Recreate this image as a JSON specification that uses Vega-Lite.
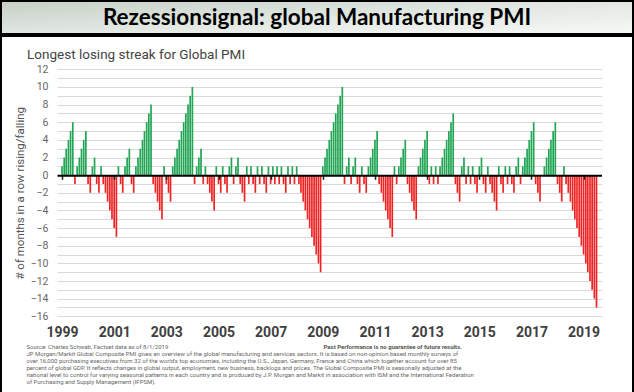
{
  "$schema": "https://vega.github.io/schema/vega-lite/v6.json",
  "padding": 0,
  "spacing": 0,
  "background": "white",
  "config": {
    "font": "Liberation Sans Narrow, Roboto, sans-serif",
    "view": {"stroke": "black", "strokeWidth": 2}
  },
  "datasets": {
    "pmi": [
      {"m":"1999-01","v":1},{"m":"1999-02","v":2},{"m":"1999-03","v":3},{"m":"1999-04","v":4},{"m":"1999-05","v":5},{"m":"1999-06","v":6},{"m":"1999-07","v":-1},{"m":"1999-08","v":1},{"m":"1999-09","v":2},{"m":"1999-10","v":3},{"m":"1999-11","v":4},{"m":"1999-12","v":5},
      {"m":"2000-01","v":-1},{"m":"2000-02","v":-2},{"m":"2000-03","v":1},{"m":"2000-04","v":2},{"m":"2000-05","v":-1},{"m":"2000-06","v":-2},{"m":"2000-07","v":1},{"m":"2000-08","v":-1},{"m":"2000-09","v":-2},{"m":"2000-10","v":-3},{"m":"2000-11","v":-4},{"m":"2000-12","v":-5},
      {"m":"2001-01","v":-6},{"m":"2001-02","v":-7},{"m":"2001-03","v":1},{"m":"2001-04","v":-1},{"m":"2001-05","v":-2},{"m":"2001-06","v":1},{"m":"2001-07","v":2},{"m":"2001-08","v":3},{"m":"2001-09","v":-1},{"m":"2001-10","v":-2},{"m":"2001-11","v":1},{"m":"2001-12","v":2},
      {"m":"2002-01","v":3},{"m":"2002-02","v":4},{"m":"2002-03","v":5},{"m":"2002-04","v":6},{"m":"2002-05","v":7},{"m":"2002-06","v":8},{"m":"2002-07","v":-1},{"m":"2002-08","v":-2},{"m":"2002-09","v":-3},{"m":"2002-10","v":-4},{"m":"2002-11","v":-5},{"m":"2002-12","v":1},
      {"m":"2003-01","v":-1},{"m":"2003-02","v":-2},{"m":"2003-03","v":-3},{"m":"2003-04","v":1},{"m":"2003-05","v":2},{"m":"2003-06","v":3},{"m":"2003-07","v":4},{"m":"2003-08","v":5},{"m":"2003-09","v":6},{"m":"2003-10","v":7},{"m":"2003-11","v":8},{"m":"2003-12","v":9},
      {"m":"2004-01","v":10},{"m":"2004-02","v":-1},{"m":"2004-03","v":1},{"m":"2004-04","v":2},{"m":"2004-05","v":3},{"m":"2004-06","v":-1},{"m":"2004-07","v":1},{"m":"2004-08","v":-1},{"m":"2004-09","v":-2},{"m":"2004-10","v":-3},{"m":"2004-11","v":-4},{"m":"2004-12","v":1},
      {"m":"2005-01","v":-1},{"m":"2005-02","v":-2},{"m":"2005-03","v":1},{"m":"2005-04","v":-1},{"m":"2005-05","v":-2},{"m":"2005-06","v":1},{"m":"2005-07","v":2},{"m":"2005-08","v":-1},{"m":"2005-09","v":1},{"m":"2005-10","v":2},{"m":"2005-11","v":-1},{"m":"2005-12","v":-2},
      {"m":"2006-01","v":-3},{"m":"2006-02","v":1},{"m":"2006-03","v":-1},{"m":"2006-04","v":1},{"m":"2006-05","v":-1},{"m":"2006-06","v":-2},{"m":"2006-07","v":1},{"m":"2006-08","v":-1},{"m":"2006-09","v":1},{"m":"2006-10","v":-1},{"m":"2006-11","v":-2},{"m":"2006-12","v":1},
      {"m":"2007-01","v":-1},{"m":"2007-02","v":1},{"m":"2007-03","v":-1},{"m":"2007-04","v":1},{"m":"2007-05","v":-1},{"m":"2007-06","v":1},{"m":"2007-07","v":-1},{"m":"2007-08","v":-2},{"m":"2007-09","v":1},{"m":"2007-10","v":-1},{"m":"2007-11","v":1},{"m":"2007-12","v":-1},
      {"m":"2008-01","v":1},{"m":"2008-02","v":-1},{"m":"2008-03","v":-2},{"m":"2008-04","v":-3},{"m":"2008-05","v":-4},{"m":"2008-06","v":-5},{"m":"2008-07","v":-6},{"m":"2008-08","v":-7},{"m":"2008-09","v":-8},{"m":"2008-10","v":-9},{"m":"2008-11","v":-10},{"m":"2008-12","v":-11},
      {"m":"2009-01","v":1},{"m":"2009-02","v":2},{"m":"2009-03","v":3},{"m":"2009-04","v":4},{"m":"2009-05","v":5},{"m":"2009-06","v":6},{"m":"2009-07","v":7},{"m":"2009-08","v":8},{"m":"2009-09","v":9},{"m":"2009-10","v":10},{"m":"2009-11","v":-1},{"m":"2009-12","v":1},
      {"m":"2010-01","v":2},{"m":"2010-02","v":-1},{"m":"2010-03","v":1},{"m":"2010-04","v":2},{"m":"2010-05","v":-1},{"m":"2010-06","v":-2},{"m":"2010-07","v":1},{"m":"2010-08","v":-1},{"m":"2010-09","v":-2},{"m":"2010-10","v":1},{"m":"2010-11","v":2},{"m":"2010-12","v":3},
      {"m":"2011-01","v":4},{"m":"2011-02","v":5},{"m":"2011-03","v":-1},{"m":"2011-04","v":-2},{"m":"2011-05","v":-3},{"m":"2011-06","v":-4},{"m":"2011-07","v":-5},{"m":"2011-08","v":-6},{"m":"2011-09","v":-7},{"m":"2011-10","v":1},{"m":"2011-11","v":-1},{"m":"2011-12","v":1},
      {"m":"2012-01","v":2},{"m":"2012-02","v":3},{"m":"2012-03","v":4},{"m":"2012-04","v":-1},{"m":"2012-05","v":-2},{"m":"2012-06","v":-3},{"m":"2012-07","v":-4},{"m":"2012-08","v":-5},{"m":"2012-09","v":1},{"m":"2012-10","v":2},{"m":"2012-11","v":3},{"m":"2012-12","v":4},
      {"m":"2013-01","v":5},{"m":"2013-02","v":-1},{"m":"2013-03","v":1},{"m":"2013-04","v":-1},{"m":"2013-05","v":1},{"m":"2013-06","v":-1},{"m":"2013-07","v":1},{"m":"2013-08","v":2},{"m":"2013-09","v":3},{"m":"2013-10","v":4},{"m":"2013-11","v":5},{"m":"2013-12","v":6},
      {"m":"2014-01","v":7},{"m":"2014-02","v":-1},{"m":"2014-03","v":-2},{"m":"2014-04","v":-3},{"m":"2014-05","v":1},{"m":"2014-06","v":2},{"m":"2014-07","v":-1},{"m":"2014-08","v":1},{"m":"2014-09","v":-1},{"m":"2014-10","v":1},{"m":"2014-11","v":-1},{"m":"2014-12","v":-2},
      {"m":"2015-01","v":1},{"m":"2015-02","v":2},{"m":"2015-03","v":-1},{"m":"2015-04","v":-2},{"m":"2015-05","v":1},{"m":"2015-06","v":-1},{"m":"2015-07","v":-2},{"m":"2015-08","v":-3},{"m":"2015-09","v":-4},{"m":"2015-10","v":1},{"m":"2015-11","v":-1},{"m":"2015-12","v":-2},
      {"m":"2016-01","v":1},{"m":"2016-02","v":-1},{"m":"2016-03","v":1},{"m":"2016-04","v":-1},{"m":"2016-05","v":-2},{"m":"2016-06","v":1},{"m":"2016-07","v":2},{"m":"2016-08","v":-1},{"m":"2016-09","v":1},{"m":"2016-10","v":2},{"m":"2016-11","v":3},{"m":"2016-12","v":4},
      {"m":"2017-01","v":5},{"m":"2017-02","v":6},{"m":"2017-03","v":-1},{"m":"2017-04","v":-2},{"m":"2017-05","v":-3},{"m":"2017-06","v":0},{"m":"2017-07","v":1},{"m":"2017-08","v":2},{"m":"2017-09","v":3},{"m":"2017-10","v":4},{"m":"2017-11","v":5},{"m":"2017-12","v":6},
      {"m":"2018-01","v":-1},{"m":"2018-02","v":-2},{"m":"2018-03","v":-3},{"m":"2018-04","v":1},{"m":"2018-05","v":-1},{"m":"2018-06","v":-2},{"m":"2018-07","v":-3},{"m":"2018-08","v":-4},{"m":"2018-09","v":-5},{"m":"2018-10","v":-6},{"m":"2018-11","v":-7},{"m":"2018-12","v":-8},
      {"m":"2019-01","v":-9},{"m":"2019-02","v":-10},{"m":"2019-03","v":-11},{"m":"2019-04","v":-12},{"m":"2019-05","v":-13},{"m":"2019-06","v":-14},{"m":"2019-07","v":-15}
    ]
  },
  "vconcat": [
    {
      "width": 632,
      "height": 33,
      "data": {"values": [{"t": "Rezessionsignal: global Manufacturing PMI"}]},
      "view": {
        "stroke": "black",
        "strokeWidth": 2,
        "fill": {"gradient": "linear", "x1": 0, "y1": 0, "x2": 1, "y2": 1, "stops": [{"offset": 0, "color": "#c6cfc6"}, {"offset": 0.6, "color": "#e6ebe6"}, {"offset": 1, "color": "#f7f9f7"}]}
      },
      "mark": {"type": "text", "font": "Lato", "fontSize": 22.5, "fontWeight": "bold", "color": "black", "baseline": "middle", "align": "center"},
      "encoding": {"text": {"field": "t", "type": "nominal"}}
    },
    {
      "width": 632,
      "height": 357,
      "data": {"name": "pmi"},
      "view": {"stroke": "black", "strokeWidth": 2},
      "title": {"text": "Longest losing streak for Global PMI", "anchor": "start", "frame": "group", "offset": -25, "dx": 26, "fontSize": 13.5, "fontWeight": "normal", "color": "#444444"},
      "encoding": {
        "y": {
          "field": "v",
          "type": "quantitative",
          "scale": {"domain": [-16, 12], "range": [280.3, 33.3], "nice": false, "zero": false},
          "axis": {
            "orient": "left",
            "offset": -50,
            "values": [-16,-15,-14,-13,-12,-11,-10,-9,-8,-7,-6,-5,-4,-3,-2,-1,0,1,2,3,4,5,6,7,8,9,10,11,12],
            "labelExpr": "datum.value % 2 == 0 ? datum.label : ''",
            "grid": true,
            "gridColor": "#d9d9d9",
            "gridWidth": 1,
            "domain": false,
            "ticks": false,
            "labelPadding": 3,
            "labelFontSize": 10.5,
            "labelColor": "#666666",
            "title": "# of months in a row rising/falling",
            "titleFontSize": 11.5,
            "titleFontWeight": "normal",
            "titleColor": "#555555",
            "titlePadding": 5
          }
        }
      },
      "layer": [
        {
          "transform": [{"filter": "datum.v >= 0"}],
          "mark": {"type": "bar", "size": 1.7, "color": "#22a555"},
          "encoding": {
            "x": {
              "field": "m",
              "type": "temporal",
              "scale": {"type": "utc", "domain": [{"year": 1999, "month": 1, "date": 1, "utc": true}, {"year": 2019, "month": 7, "date": 1, "utc": true}], "range": [56, 600.5]},
              "axis": {
                "orient": "bottom",
                "offset": -217.7,
                "values": [{"year": 1999, "utc": true}, {"year": 2001, "utc": true}, {"year": 2003, "utc": true}, {"year": 2005, "utc": true}, {"year": 2007, "utc": true}, {"year": 2009, "utc": true}, {"year": 2011, "utc": true}, {"year": 2013, "utc": true}, {"year": 2015, "utc": true}, {"year": 2017, "utc": true}, {"year": 2019, "utc": true}],
                "labels": false,
                "grid": false,
                "domain": true,
                "domainColor": "black",
                "domainWidth": 2,
                "ticks": true,
                "tickColor": "#222222",
                "tickSize": 4,
                "tickWidth": 1.5,
                "zindex": 1,
                "title": "Past Performance is no guarantee of future results.",
                "titleX": 322,
                "titleY": 168,
                "titleAlign": "left",
                "titleBaseline": "top",
                "titleFontSize": 6,
                "titleFontWeight": "bold",
                "titleColor": "#555555"
              }
            }
          }
        },
        {
          "transform": [{"filter": "datum.v < 0"}],
          "mark": {"type": "bar", "size": 1.7, "color": "#ee2424"},
          "encoding": {
            "x": {
              "field": "m",
              "type": "temporal",
              "scale": {"type": "utc", "domain": [{"year": 1999, "month": 1, "date": 1, "utc": true}, {"year": 2019, "month": 7, "date": 1, "utc": true}], "range": [56, 600.5]},
              "axis": {
                "orient": "bottom",
                "offset": -70,
                "values": [{"year": 1999, "utc": true}, {"year": 2001, "utc": true}, {"year": 2003, "utc": true}, {"year": 2005, "utc": true}, {"year": 2007, "utc": true}, {"year": 2009, "utc": true}, {"year": 2011, "utc": true}, {"year": 2013, "utc": true}, {"year": 2015, "utc": true}, {"year": 2017, "utc": true}, {"year": 2019, "utc": true}],
                "format": "%Y",
                "labelFontSize": 14,
                "labelFontWeight": "bold",
                "labelColor": "#404040",
                "labelPadding": 2,
                "labelOverlap": false,
                "grid": false,
                "domain": false,
                "ticks": false,
                "title": [
                  "Source: Charles Schwab, Factset data as of 8/1/2019",
                  "JP Morgan/Markit Global Composite PMI gives an overview of the global manufacturing and services sectors. It is based on non-opinion based monthly surveys of",
                  "over 16,000 purchasing executives from 32 of the world's top economies, including the U.S., Japan, Germany, France and China which together account for over 85",
                  "percent of global GDP. It reflects changes in global output, employment, new business, backlogs and prices. The Global Composite PMI is seasonally adjusted at the",
                  "national level to control for varying seasonal patterns in each country and is produced by J.P. Morgan and Markit in association with ISM and the International Federation",
                  "of Purchasing and Supply Management (IFPSM)."
                ],
                "titleX": 25,
                "titleY": 20,
                "titleAlign": "left",
                "titleBaseline": "top",
                "titleFontSize": 6,
                "titleLineHeight": 7,
                "titleFontWeight": "normal",
                "titleColor": "#666666"
              }
            }
          }
        }
      ],
      "resolve": {"axis": {"x": "independent"}}
    }
  ]
}
